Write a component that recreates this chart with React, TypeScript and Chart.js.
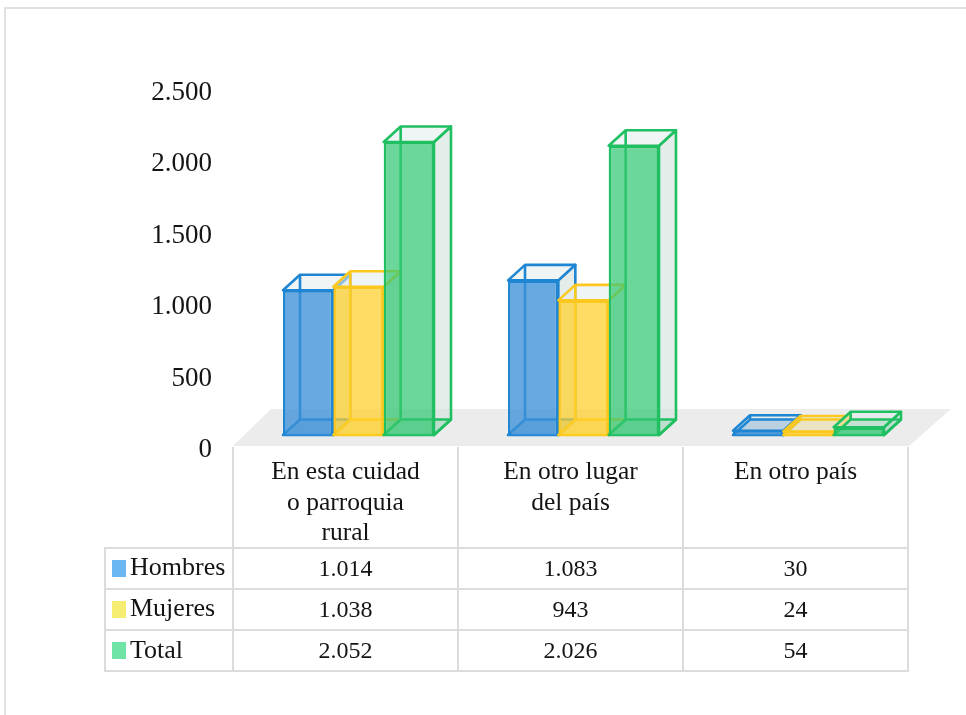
import React, { useEffect, useRef } from "react";
import { Chart, registerables } from "chart.js";

Chart.register(...registerables);

const categories: string[][] = [
  ["En esta cuidad", "o parroquia", "rural"],
  ["En otro lugar", "del país"],
  ["En otro país"],
];
const hombres = [1014, 1083, 30];
const mujeres = [1038, 943, 24];
const total = [2052, 2026, 54];
const seriesNames = ["Hombres", "Mujeres", "Total"];
const yTickLabels = ["0", "500", "1.000", "1.500", "2.000", "2.500"];

const fills = ["rgba(60,145,215,0.78)", "rgba(255,208,40,0.72)", "rgba(50,200,115,0.72)"];
const floorFills = ["rgba(30,120,200,0.22)", "rgba(255,200,30,0.18)", "rgba(40,190,105,0.18)"];
const strokes = ["#1f86d3", "#fdc81e", "#20c062"];
const swatches = ["#6cb6f2", "#f6ee72", "#70e3a6"];

const FONT = '"Liberation Serif", serif';
const TEXT = "#141414";
const GRID = "#dcdcdc";
const DX = 17;
const DY = -15.5;
const STROKE = 2.6;
const SHIFT = 13; // labels and table sit this far in front of the bars' plane

const fmt = (v: number) => String(v).replace(/\B(?=(\d{3})+$)/g, ".");

const poly = (ctx: CanvasRenderingContext2D, pts: number[][]) => {
  ctx.beginPath();
  pts.forEach(([x, y], i) => (i ? ctx.lineTo(x, y) : ctx.moveTo(x, y)));
  ctx.closePath();
};

const drawBack = (ctx: CanvasRenderingContext2D, meta: any, index: number) => {
  ctx.save();
  ctx.lineWidth = STROKE;
  ctx.lineJoin = "round";
  ctx.strokeStyle = strokes[index];
  for (const el of meta.data) {
    const l = el.x - el.width / 2;
    const r = el.x + el.width / 2;
    const t = el.y;
    const b = el.base;
    // right side face
    ctx.fillStyle = "rgba(215,228,222,0.65)";
    poly(ctx, [[r, t], [r + DX, t + DY], [r + DX, b + DY], [r, b]]);
    ctx.fill();
    ctx.stroke();
    // top face
    ctx.fillStyle = "rgba(225,235,235,0.55)";
    poly(ctx, [[l, t], [l + DX, t + DY], [r + DX, t + DY], [r, t]]);
    ctx.fill();
    ctx.stroke();
    // bottom face
    ctx.fillStyle = floorFills[index];
    poly(ctx, [[l, b], [l + DX, b + DY], [r + DX, b + DY], [r, b]]);
    ctx.fill();
    ctx.stroke();
    // hidden back-left edge
    ctx.beginPath();
    ctx.moveTo(l + DX, t + DY);
    ctx.lineTo(l + DX, b + DY);
    ctx.stroke();
  }
  ctx.restore();
};

const scene = {
  id: "scene",
  beforeDatasetsDraw(chart: any) {
    const { ctx, scales } = chart;
    const x = scales.x;
    const base = scales.y.getPixelForValue(0);
    const step = x.getPixelForValue(1) - x.getPixelForValue(0);
    const left = x.getPixelForValue(0) - step / 2 - SHIFT;
    const right = x.getPixelForValue(2) + step / 2 - SHIFT;
    ctx.save();
    // page frame
    ctx.strokeStyle = "#e2e2e2";
    ctx.lineWidth = 2;
    ctx.beginPath();
    ctx.moveTo(5, 715);
    ctx.lineTo(5, 8);
    ctx.lineTo(966, 8);
    ctx.stroke();
    // floor
    ctx.fillStyle = "#ececec";
    poly(ctx, [
      [left, base + 11],
      [left + 38, base - 26],
      [right + 43, base - 26],
      [right + 1, base + 11],
    ]);
    ctx.fill();
    // table grid
    ctx.strokeStyle = GRID;
    ctx.lineWidth = 2;
    const rows = [548, 589, 630, 671];
    ctx.beginPath();
    for (const r of rows) {
      ctx.moveTo(105, r);
      ctx.lineTo(right, r);
    }
    ctx.moveTo(105, 547);
    ctx.lineTo(105, 672);
    for (let i = 0; i <= 3; i++) {
      ctx.moveTo(left + step * i, base + 12);
      ctx.lineTo(left + step * i, 672);
    }
    ctx.stroke();
    // table body
    const sets = [hombres, mujeres, total];
    const rowLabelY = [568.5, 609.5, 651.5];
    const rowValueY = [570, 611, 652];
    const swatchY = [560, 601, 642];
    ctx.textBaseline = "middle";
    sets.forEach((vals, r) => {
      ctx.fillStyle = swatches[r];
      ctx.fillRect(112, swatchY[r], 14, 17);
      ctx.fillStyle = TEXT;
      ctx.textAlign = "left";
      ctx.font = `26px ${FONT}`;
      ctx.fillText(seriesNames[r], 130, rowLabelY[r]);
      ctx.textAlign = "center";
      ctx.font = `24px ${FONT}`;
      vals.forEach((v, c) => {
        ctx.fillText(fmt(v), x.getPixelForValue(c) - SHIFT, rowValueY[r]);
      });
    });
    ctx.restore();
    // bars, left to right, so that each one lies over its left neighbour's side face
    for (let i = 0; i < chart.data.datasets.length; i++) {
      const meta = chart.getDatasetMeta(i);
      drawBack(ctx, meta, i);
      meta.controller.draw();
    }
    return false;
  },
};

export default function App() {
  const ref = useRef<HTMLCanvasElement>(null);
  useEffect(() => {
    const mk = (label: string, data: number[], i: number) => ({
      label,
      data,
      backgroundColor: fills[i],
      borderColor: strokes[i],
      borderWidth: STROKE,
      categoryPercentage: 0.671,
      barPercentage: 1,
    });
    const chart = new Chart(ref.current as HTMLCanvasElement, {
      type: "bar",
      data: {
        labels: categories as any,
        datasets: [mk(seriesNames[0], hombres, 0), mk(seriesNames[1], mujeres, 1), mk(seriesNames[2], total, 2)],
      },
      plugins: [scene as any],
      options: {
        responsive: false,
        animation: false,
        layout: { padding: { top: 78, right: 45, left: 0, bottom: 0 } },
        plugins: { legend: { display: false }, tooltip: { enabled: false }, title: { display: false } },
        scales: {
          x: {
            grid: { display: false, drawTicks: false },
            border: { display: false },
            afterFit: (s: any) => {
              s.height = 280;
            },
            ticks: {
              font: { family: FONT, size: 25.5, lineHeight: 1.2 },
              color: TEXT,
              maxRotation: 0,
              autoSkip: false,
              padding: 22,
              labelOffset: -SHIFT,
            },
          },
          y: {
            min: 0,
            max: 2500,
            grid: { display: false, drawTicks: false },
            border: { display: false },
            afterFit: (s: any) => {
              s.width = 246;
            },
            ticks: {
              stepSize: 500,
              font: { family: FONT, size: 27 },
              color: TEXT,
              padding: 34,
              labelOffset: SHIFT + 2,
              callback: (_v: any, i: number) => yTickLabels[i],
            },
          },
        },
      },
    });
    return () => chart.destroy();
  }, []);
  return (
    <div style={{ position: "absolute", left: 0, top: 0, width: 966, height: 715, background: "#fff" }}>
      <canvas ref={ref} width={966} height={715} style={{ display: "block" }} />
    </div>
  );
}
